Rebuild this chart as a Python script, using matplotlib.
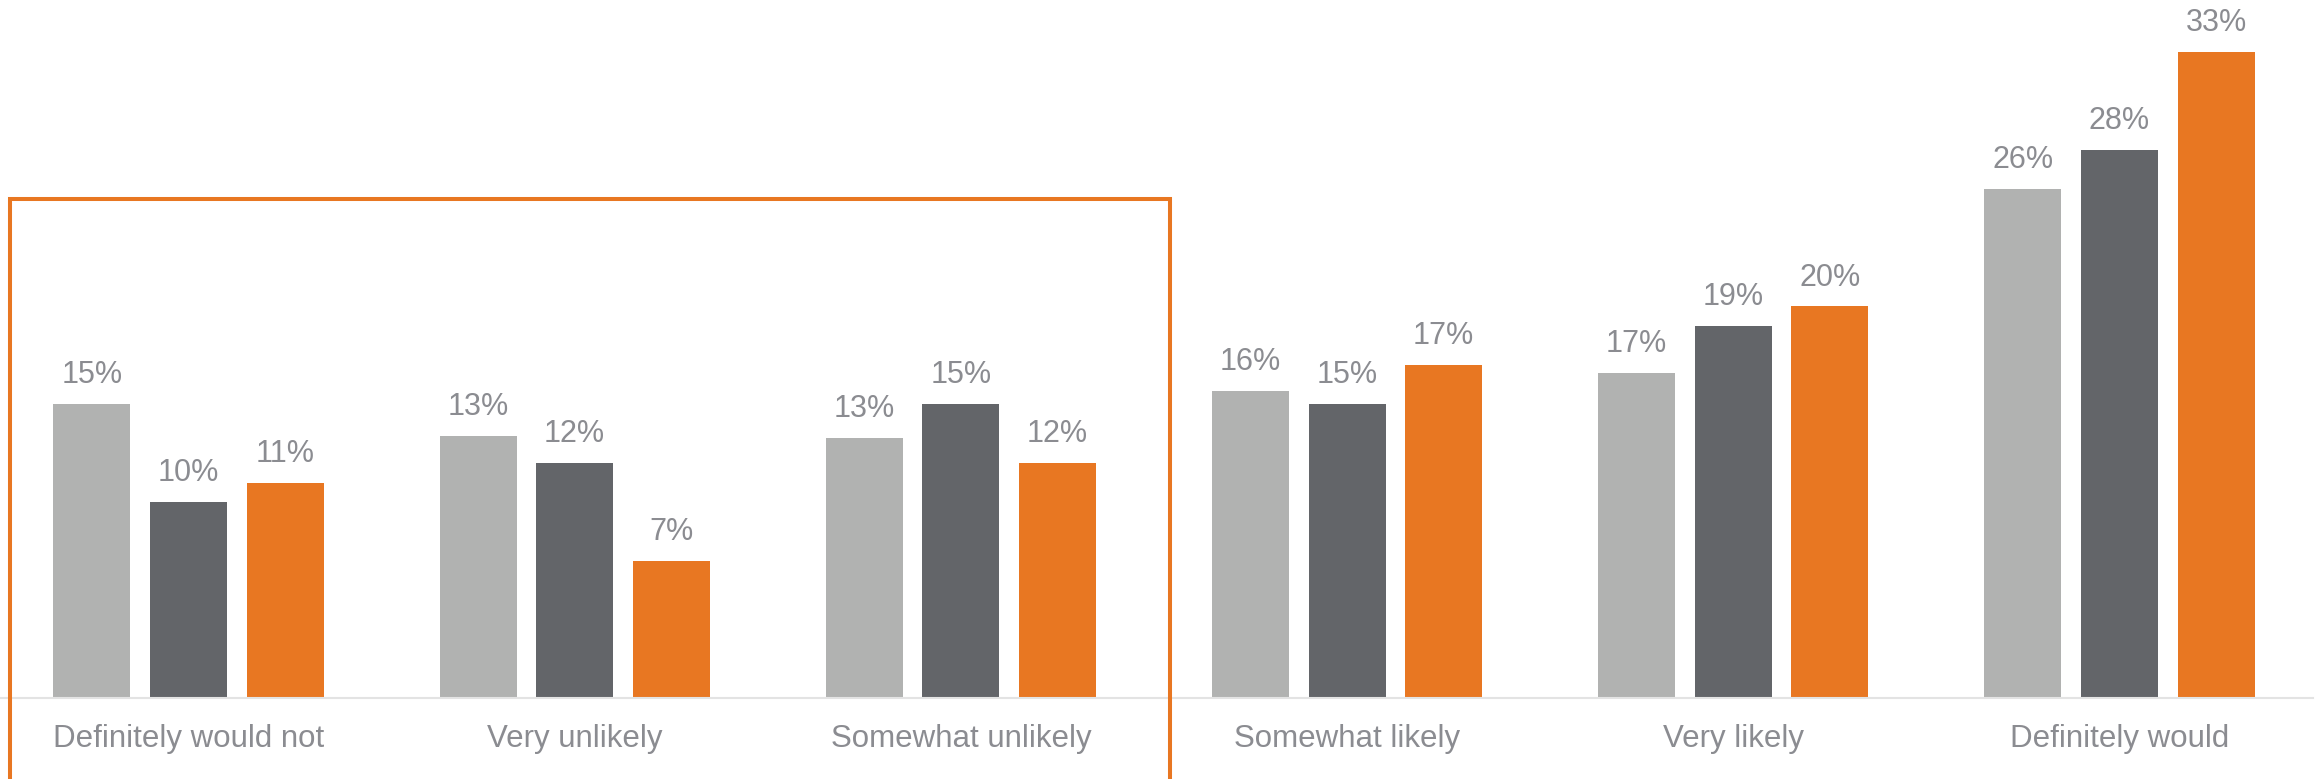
import matplotlib.pyplot as plt
from matplotlib.patches import Rectangle

categories = ['Definitely would not', 'Very unlikely', 'Somewhat unlikely',
              'Somewhat likely', 'Very likely', 'Definitely would']
# bar heights (%), labels are the rounded values
wave1 = [15.0, 13.4, 13.3, 15.7, 16.6, 26.0]
wave2 = [10.0, 12.0, 15.0, 15.0, 19.0, 28.0]
wave3 = [11.0, 7.0, 12.0, 17.0, 20.0, 33.0]
labels1 = ['15%', '13%', '13%', '16%', '17%', '26%']
labels2 = ['10%', '12%', '15%', '15%', '19%', '28%']
labels3 = ['11%', '7%', '12%', '17%', '20%', '33%']

colors = ['#B1B2B1', '#636569', '#E87722']
txt_col = '#8B8C91'

plt.rcParams['font.family'] = ['Liberation Sans', 'DejaVu Sans']

fig = plt.figure(figsize=(23.23, 7.79), dpi=100)
ax = fig.add_axes([0, 81 / 779, 2313 / 2323, 698 / 779])

x = list(range(len(categories)))
w = 0.1994
for k, (vals, labs) in enumerate([(wave1, labels1), (wave2, labels2), (wave3, labels3)]):
    xs = [i + (k - 1) * 0.25 for i in x]
    bars = ax.bar(xs, vals, width=w, color=colors[k], zorder=2)
    for b, lab in zip(bars, labs):
        ax.annotate(lab, (b.get_x() + b.get_width() / 2, b.get_height()),
                    xytext=(0, 10), textcoords='offset points',
                    ha='center', va='bottom', fontsize=22, color=txt_col)

ax.set_xlim(-0.488, 5.501)
ax.set_ylim(0, 35.65)
ax.set_xticks(x)
ax.set_xticklabels(categories, fontsize=22.5, color=txt_col)
ax.tick_params(axis='x', length=0, pad=19)
ax.set_yticks([])
for s in ['top', 'left', 'right']:
    ax.spines[s].set_visible(False)
ax.spines['bottom'].set_color('#E3E3E3')
ax.spines['bottom'].set_linewidth(1.5)

# orange highlight box around the "unlikely" answers
box_left, box_right, box_top = -0.462, 2.541, 25.5
box = Rectangle((box_left, -10), box_right - box_left, box_top + 10, fill=False,
                edgecolor='#E87722', linewidth=2.9, clip_on=False, zorder=3)
ax.add_patch(box)

fig.savefig('out.png', dpi=100)
